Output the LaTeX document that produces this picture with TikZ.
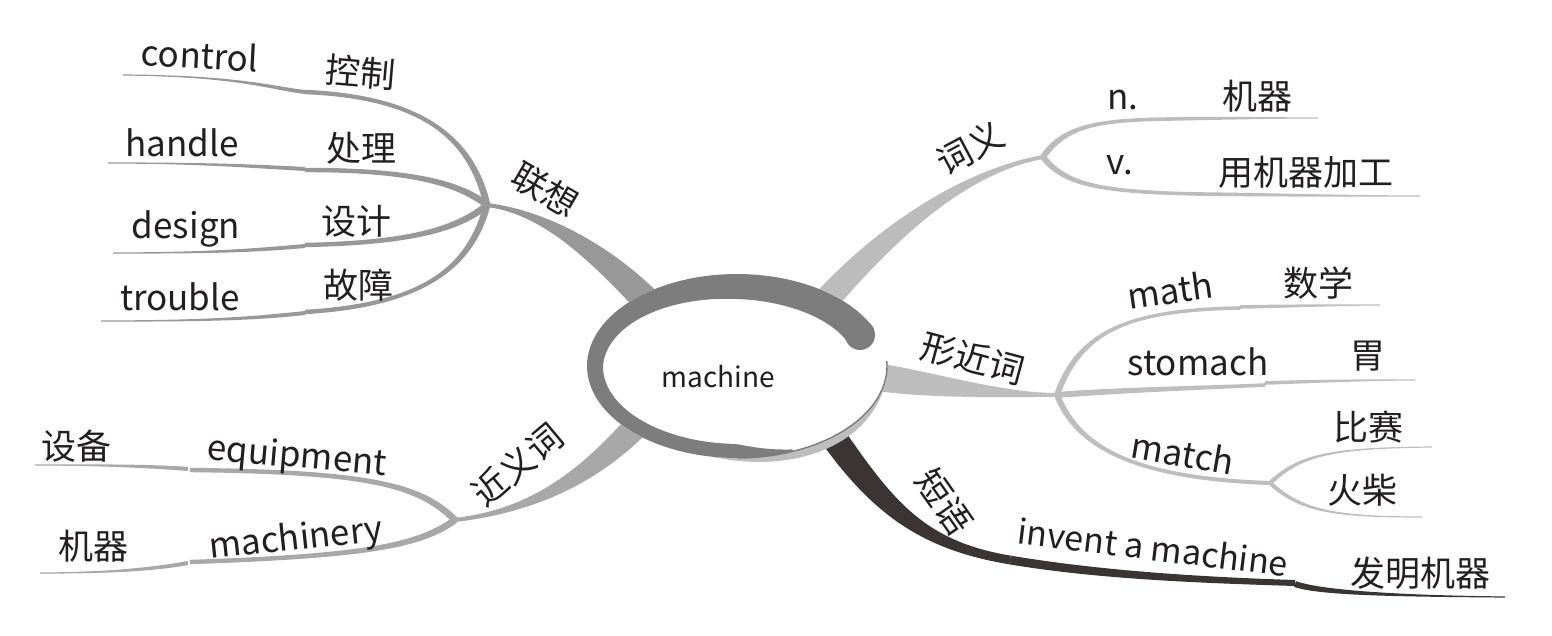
\documentclass[tikz,border=0pt]{standalone}
\usepackage{fontspec}
\setmainfont{Noto Sans CJK SC}
\usetikzlibrary{calc,positioning}
\definecolor{ringgray}{RGB}{125,125,125}
\definecolor{rimgray}{RGB}{190,190,190}
\definecolor{assocgray}{RGB}{152,152,152}
\definecolor{meangray}{RGB}{188,188,188}
\definecolor{formgray}{RGB}{190,190,190}
\definecolor{syngray}{RGB}{168,168,168}
\definecolor{phrasedark}{RGB}{58,52,52}
\definecolor{inkgray}{RGB}{35,31,32}
\tikzset{
  word/.style={font=\fontsize{17.5}{20}\selectfont,text=inkgray,inner sep=1pt},
  keyword/.style={word,font=\fontsize{14}{17}\selectfont}
}
% tapered branch: colour, start, control 1, control 2, end, half width at start, half width at end
\newcommand{\taper}[7]{%
  \fill[#1] ($(#2)!#6!90:(#3)$) .. controls ($(#3)!#6!-90:(#2)$) and ($(#4)!#7!90:(#5)$) .. ($(#5)!#7!-90:(#4)$)
    -- ($(#5)!#7!90:(#4)$) .. controls ($(#4)!#7!-90:(#5)$) and ($(#3)!#6!90:(#2)$) .. ($(#2)!#6!-90:(#3)$) -- cycle;}

\begin{document}
\begin{tikzpicture}[x=0.5pt,y=-0.5pt,
  declare function={th(\t)=ifthenelse(\t<90,30-5*(\t-24)/66,ifthenelse(\t<180,25-9*(\t-90)/90,
    ifthenelse(\t<270,16-2*(\t-180)/90,14-12*(\t-270)/22)));
    sh(\t)=9*sin((\t-260)*1.8);}]
  \useasboundingbox (0,0) rectangle (1552,636);

  \coordinate (hubAssoc) at (487,205);
  \coordinate (hubMean) at (1043,157);
  \coordinate (hubForm) at (1057,395);
  \coordinate (hubMatch) at (1270,483);
  \coordinate (hubSyn) at (455,520);
  \coordinate (phraseEnd) at (1505,597);

  % 联想
  \taper{assocgray}{660,315}{605,255}{545,212}{hubAssoc}{7pt}{1pt}
  \taper{assocgray}{hubAssoc}{472,140}{425,97}{305,92}{1.7pt}{1.1pt}
  \taper{assocgray}{305,92}{270,88}{240,76}{123,75}{1pt}{0.3pt}
  \taper{assocgray}{hubAssoc}{455,180}{400,170}{305,170}{1.7pt}{1.1pt}
  \taper{assocgray}{305,169}{250,166}{200,163}{108,163}{1pt}{0.3pt}
  \taper{assocgray}{hubAssoc}{455,232}{400,243}{305,245}{1.7pt}{1.1pt}
  \taper{assocgray}{305,246}{250,251}{200,253}{113,253}{1pt}{0.3pt}
  \taper{assocgray}{hubAssoc}{470,270}{420,305}{305,312}{1.7pt}{1.1pt}
  \taper{assocgray}{305,313}{250,319}{200,321}{101,321}{1pt}{0.3pt}

  % 词义
  \taper{meangray}{805,325}{875,240}{960,172}{hubMean}{6.5pt}{1pt}
  \taper{meangray}{hubMean}{1065,125}{1100,120}{1170,119}{1.5pt}{0.9pt}
  \taper{meangray}{1170,119}{1220,118}{1270,118}{1318,118}{0.9pt}{0.3pt}
  \taper{meangray}{hubMean}{1065,185}{1100,192}{1200,194}{1.5pt}{0.9pt}
  \taper{meangray}{1200,194}{1280,195}{1350,196}{1420,196}{0.9pt}{0.3pt}

  % 形近词
  \taper{formgray}{870,376}{930,385}{1000,395}{hubForm}{7pt}{1pt}
  \taper{formgray}{hubForm}{1080,330}{1130,310}{1240,308}{1.5pt}{0.9pt}
  \taper{formgray}{1240,307}{1290,306}{1340,305}{1380,305}{0.9pt}{0.3pt}
  \taper{formgray}{hubForm}{1120,390}{1200,388}{1265,385}{1.5pt}{0.9pt}
  \taper{formgray}{1265,383}{1320,381}{1370,380}{1415,380}{0.9pt}{0.3pt}
  \taper{formgray}{hubForm}{1075,440}{1120,478}{hubMatch}{1.5pt}{1pt}
  \taper{formgray}{hubMatch}{1300,455}{1330,448}{1432,447}{1pt}{0.3pt}
  \taper{formgray}{hubMatch}{1300,510}{1330,517}{1422,517}{1pt}{0.3pt}

  % 短语
  \taper{phrasedark}{825,425}{880,505}{920,545}{1010,560}{6.5pt}{2.2pt}
  \taper{phrasedark}{1010,560}{1100,575}{1200,580}{1295,583}{2.2pt}{1.5pt}
  \taper{phrasedark}{1295,584}{1320,593}{1400,596}{phraseEnd}{1.5pt}{0.3pt}

  % 近义词
  \taper{syngray}{655,405}{600,470}{540,510}{hubSyn}{6.5pt}{1pt}
  \taper{syngray}{hubSyn}{420,485}{370,472}{190,470}{1.7pt}{1.1pt}
  \taper{syngray}{188,469}{150,466}{100,465}{35,465}{1pt}{0.3pt}
  \taper{syngray}{hubSyn}{420,545}{370,556}{190,562}{1.7pt}{1.1pt}
  \taper{syngray}{188,563}{150,570}{100,573}{40,573}{1pt}{0.3pt}

  % centre
  \fill[white] (737,366) ellipse[x radius=75pt,y radius=46pt];
  \fill[rimgray] plot[domain=260:360,samples=40] ({737+150*cos(\x)},{366-92*sin(\x)})
    -- plot[domain=360:260,samples=40] ({737+150*cos(\x)},{366-92*sin(\x)+sh(\x)}) -- cycle;
  \draw[ringgray,line width=0.7pt] plot[domain=270:363,samples=40] ({737+150*cos(\x)},{366-92*sin(\x)});
  \fill[ringgray] plot[domain=24:292,samples=90] ({737+150*cos(\x)},{366-92*sin(\x)})
    -- plot[domain=292:24,samples=90] ({737+(150-th(\x))*cos(\x)},{366-(92-th(\x))*sin(\x)}) -- cycle;
  \fill[ringgray] (860,335) circle[radius=7.5pt];
  \node[keyword] (machine) at (718,377) {machine};

  \node[word,rotate=-30] (lianxiang) at (545,190) {联想};
  \node[word,rotate=-3] (control) at (200,55) {control};
  \node[word,rotate=-5] (kongzhi) at (361,72) {控制};
  \node[word] (handle) at (182,143) {handle};
  \node[word] (chuli) at (361,148) {处理};
  \node[word] (design) at (186,229) {design};
  \node[word] (sheji) at (356,221) {设计};
  \node[word] (trouble) at (180,297) {trouble};
  \node[word] (guzhang) at (358,285) {故障};

  \node[word,rotate=28] (ciyi) at (970,148) {词义};
  \node[word] (noun) at (1123,100) {n.};
  \node[word] (jiqi) at (1257,96) {机器};
  \node[word] (verb) at (1120,165) {v.};
  \node[word] (jiagong) at (1306,172) {用机器加工};

  \node[word,rotate=-15] (xingjinci) at (973,358) {形近词};
  \node[word,rotate=8] (math) at (1170,290) {math};
  \node[word] (shuxue) at (1318,283) {数学};
  \node[word] (stomach) at (1198,362) {stomach};
  \node[word] (wei) at (1368,356) {胃};
  \node[word,rotate=-10] (match) at (1183,453) {match};
  \node[word] (bisai) at (1368,427) {比赛};
  \node[word] (huochai) at (1362,490) {火柴};

  \node[word,rotate=-55] (duanyu) at (944,502) {短语};
  \node[word,rotate=-7,font=\fontsize{17}{20}\selectfont] (invent) at (1153,547) {invent a machine};
  \node[word] (faming) at (1420,573) {发明机器};

  \node[word,rotate=40] (jinyici) at (517,465) {近义词};
  \node[word] (shebei) at (76,446) {设备};
  \node[word,rotate=-5] (equipment) at (297,458) {equipment};
  \node[word] (jiqiL) at (93,546) {机器};
  \node[word,rotate=6] (machinery) at (296,540) {machinery};
\end{tikzpicture}
\end{document}
